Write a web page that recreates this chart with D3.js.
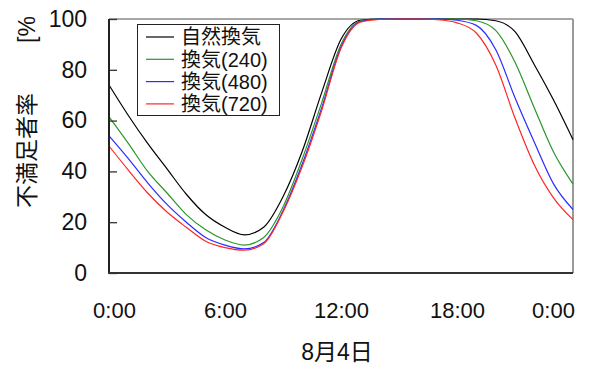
<!DOCTYPE html>
<html>
<head>
<meta charset="utf-8">
<script src="https://cdn.jsdelivr.net/npm/d3@7/dist/d3.min.js"></script>
<style>
  html, body { margin: 0; padding: 0; background: #fff; }
  svg { display: block; }
  .tick text { fill: #111; }
</style>
</head>
<body>
<svg id="chart" width="607" height="369"></svg>
<script>
// Hours of 8月4日 (0:00 to next 0:00)
const hours = [0, 1, 2, 3, 4, 5, 6, 7, 8, 9, 10, 11, 12, 13, 14, 15, 16, 17, 18, 19, 20, 21, 22, 23, 24];

// 不満足者率 [%] for each ventilation case
const natural = [74, 62, 51, 41, 31, 23, 18, 15, 18, 30, 48, 71, 92, 99.5, 100, 100, 100, 100, 100, 100, 99.3, 95, 82, 68, 52.5];
const vent240 = [61.5, 51, 40, 31.5, 23, 17, 13, 11, 14, 26, 45, 67, 90, 99.2, 100, 100, 100, 100, 100, 99.3, 95.5, 83, 65, 47.5, 35];
const vent480 = [54, 45, 35.5, 27, 20, 14, 11, 9.5, 12, 24.5, 43, 65, 89, 99, 100, 100, 100, 100, 99.5, 97.5, 88, 69, 51.5, 35, 25];
const vent720 = [50, 40.5, 31.5, 24, 18, 12.5, 10, 9, 11.5, 24, 42, 64, 88.5, 98.8, 99.8, 100, 100, 99.7, 98.5, 94.5, 82, 61, 42.5, 29.5, 21];

const seriesNames = ["自然換気", "換気(240)", "換気(480)", "換気(720)"];
const seriesColors = ["#000000", "#2a962a", "#2b2bff", "#ff2626"];
const seriesValues = [natural, vent240, vent480, vent720];

const xTicks = [0, 6, 12, 18, 24];
const xTickLabels = ["0:00", "6:00", "12:00", "18:00", "0:00"];
const yTicks = [0, 20, 40, 60, 80, 100];

const xTitle = "8月4日";
const yTitle = "不満足者率";
const yUnit = "[%]";

const svg = d3.select("#chart");
const plotL = 109, plotR = 573, plotT = 19, plotB = 273;

const x = d3.scaleLinear().domain([0, 24]).range([plotL, plotR]);
const y = d3.scaleLinear().domain([0, 100]).range([plotB, plotT]);

const numFont = "'Liberation Sans', Arial, sans-serif";
const cjkFont = "'Liberation Sans', 'Noto Sans CJK JP', sans-serif";

// Plot frame: grey top/right, dark left/bottom
svg.append("line").attr("x1", plotL).attr("x2", plotR).attr("y1", plotT).attr("y2", plotT)
  .attr("stroke", "#8a8a8a").attr("stroke-width", 1.5);
svg.append("line").attr("x1", plotR).attr("x2", plotR).attr("y1", plotT).attr("y2", plotB)
  .attr("stroke", "#9a9a9a").attr("stroke-width", 2);

// Series lines
const line = d3.line()
  .x((d, i) => x(hours[i]))
  .y(d => y(d))
  .curve(d3.curveMonotoneX);

seriesValues.forEach((vals, k) => {
  svg.append("path")
    .datum(vals)
    .attr("fill", "none")
    .attr("stroke", seriesColors[k])
    .attr("stroke-width", 1.2)
    .attr("d", line);
});

// Y axis with inward ticks
const yAxis = svg.append("g")
  .attr("transform", `translate(${plotL},0)`)
  .call(d3.axisLeft(y).tickValues(yTicks).tickSize(-8).tickPadding(22));
yAxis.select(".domain").remove();
yAxis.selectAll(".tick line").attr("stroke", "#333").attr("stroke-width", 1.3);
yAxis.selectAll(".tick text").attr("font-family", numFont).attr("font-size", 23);

// X axis labels only
const xAxis = svg.append("g")
  .attr("transform", `translate(0,${plotB})`)
  .call(d3.axisBottom(x).tickValues(xTicks).tickSize(0).tickPadding(29)
    .tickFormat((d, i) => xTickLabels[i]));
xAxis.select(".domain").remove();
xAxis.selectAll(".tick text").attr("font-family", numFont).attr("font-size", 22)
  .attr("dx", (d, i) => i === 0 ? 5 : (i === xTicks.length - 1 ? -20 : 0));

svg.append("line").attr("x1", plotL).attr("x2", plotL).attr("y1", plotT).attr("y2", plotB + 1)
  .attr("stroke", "#222").attr("stroke-width", 2);
svg.append("line").attr("x1", plotL - 1).attr("x2", plotR).attr("y1", plotB).attr("y2", plotB)
  .attr("stroke", "#333").attr("stroke-width", 2);

// Axis titles
svg.append("text")
  .attr("x", (plotL + plotR) / 2 - 4).attr("y", 360)
  .attr("text-anchor", "middle")
  .attr("font-family", cjkFont).attr("font-size", 23).attr("fill", "#111")
  .text(xTitle);

// Vertical title; its top end runs into the page edge
svg.append("clipPath").attr("id", "ytitle-clip")
  .append("rect").attr("x", 0).attr("y", 16).attr("width", 60).attr("height", 353);
const yt = svg.append("g").attr("clip-path", "url(#ytitle-clip)")
  .append("text")
  .attr("transform", "translate(35,208) rotate(-90)")
  .attr("font-family", cjkFont).attr("font-size", 23).attr("fill", "#111");
yt.append("tspan").text(yTitle);
yt.append("tspan").attr("dx", 50).text(yUnit);

// Legend
const lg = svg.append("g");
lg.append("rect").attr("x", 137.5).attr("y", 24.5).attr("width", 142).attr("height", 91)
  .attr("fill", "#fff").attr("stroke", "#222").attr("stroke-width", 1);
seriesNames.forEach((name, k) => {
  const cy = 37 + k * 22.3;
  lg.append("line").attr("x1", 146).attr("x2", 174).attr("y1", cy).attr("y2", cy)
    .attr("stroke", seriesColors[k]).attr("stroke-width", 1.2);
  lg.append("text").attr("x", 181).attr("y", cy).attr("dy", "0.36em")
    .attr("font-family", cjkFont).attr("font-size", 20).attr("fill", "#111")
    .text(name);
});
</script>
</body>
</html>
